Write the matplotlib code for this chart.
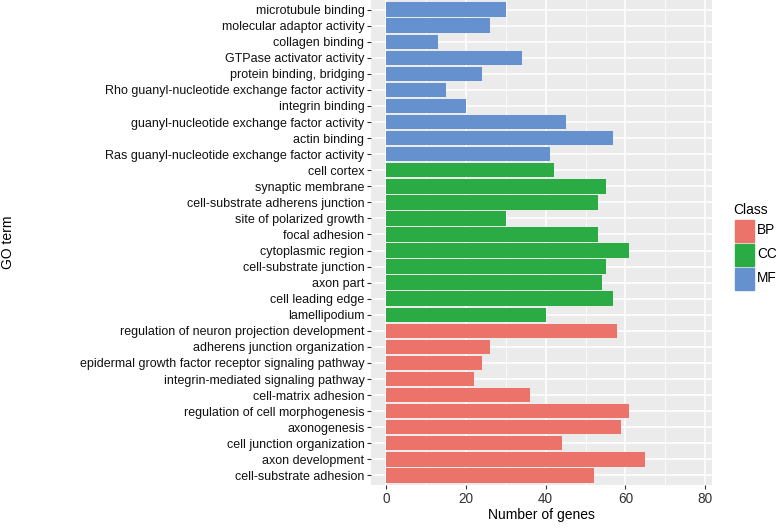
import matplotlib
matplotlib.use("Agg")
import matplotlib.pyplot as plt
from matplotlib.patches import Rectangle
from matplotlib.ticker import MultipleLocator

# GO terms listed top to bottom, as in the picture
terms = [
    "microtubule binding", "molecular adaptor activity", "collagen binding",
    "GTPase activator activity", "protein binding, bridging",
    "Rho guanyl-nucleotide exchange factor activity", "integrin binding",
    "guanyl-nucleotide exchange factor activity", "actin binding",
    "Ras guanyl-nucleotide exchange factor activity",
    "cell cortex", "synaptic membrane", "cell-substrate adherens junction",
    "site of polarized growth", "focal adhesion", "cytoplasmic region",
    "cell-substrate junction", "axon part", "cell leading edge", "lamellipodium",
    "regulation of neuron projection development", "adherens junction organization",
    "epidermal growth factor receptor signaling pathway",
    "integrin-mediated signaling pathway", "cell-matrix adhesion",
    "regulation of cell morphogenesis", "axonogenesis", "cell junction organization",
    "axon development", "cell-substrate adhesion",
]
counts = [30, 26, 13, 34, 24, 15, 20, 45, 57, 41,
          42, 55, 53, 30, 53, 61, 55, 54, 57, 40,
          58, 26, 24, 22, 36, 61, 59, 44, 65, 52]
classes = ["MF"] * 10 + ["CC"] * 10 + ["BP"] * 10
class_names = ["BP", "CC", "MF"]
class_colors = {"BP": "#EB736A", "CC": "#2BAB44", "MF": "#6592CE"}

plt.rcParams["font.family"] = ["Liberation Sans", "DejaVu Sans"]

fig = plt.figure(figsize=(7.8, 5.28), dpi=100)
ax = fig.add_axes([371 / 780, 1 - 485 / 528, (711.7 - 371) / 780, 485 / 528])

n = len(terms)
ypos = [n - 1 - i for i in range(n)]
ax.barh(ypos, counts, height=0.9, color=[class_colors[c] for c in classes], zorder=3)

ax.set_facecolor("#EBEBEB")
ax.set_xlim(-3.85, 81.65)
ax.set_ylim(-0.6, n - 0.4)
ax.xaxis.set_major_locator(MultipleLocator(20))
ax.xaxis.set_minor_locator(MultipleLocator(10))
ax.grid(which="major", axis="both", color="white", linewidth=1.1, zorder=0)
ax.grid(which="minor", axis="x", color="white", linewidth=0.55, zorder=0)
ax.set_axisbelow(True)
for s in ax.spines.values():
    s.set_visible(False)

ax.set_yticks(ypos)
ax.set_yticklabels(terms)
ax.tick_params(axis="both", which="major", length=2.75, width=0.8, color="#333333",
               labelcolor="#111111", labelsize=9.0, pad=2)
ax.tick_params(axis="x", which="minor", length=0)
ax.tick_params(axis="x", labelsize=9.8, labelcolor="#333333")

ax.set_xlabel("Number of genes", fontsize=10, color="black", labelpad=2)
fig.text(8 / 780, 1 - 242 / 528, "GO term", rotation=90, fontsize=10,
         ha="center", va="center")

# legend
fig.text(733 / 780, 1 - 210 / 528, "Class", fontsize=10, ha="left", va="center")
key_tops = [219.5, 243.5, 267.5]
for name, top in zip(class_names, key_tops):
    fig.patches.append(Rectangle((734.5 / 780, 1 - (top + 22) / 528), 19 / 780, 22 / 528,
                                 transform=fig.transFigure, color=class_colors[name]))
    fig.text(757 / 780, 1 - (top + 11) / 528, name, fontsize=9.8, ha="left", va="center")

fig.savefig("out.png", dpi=100)
